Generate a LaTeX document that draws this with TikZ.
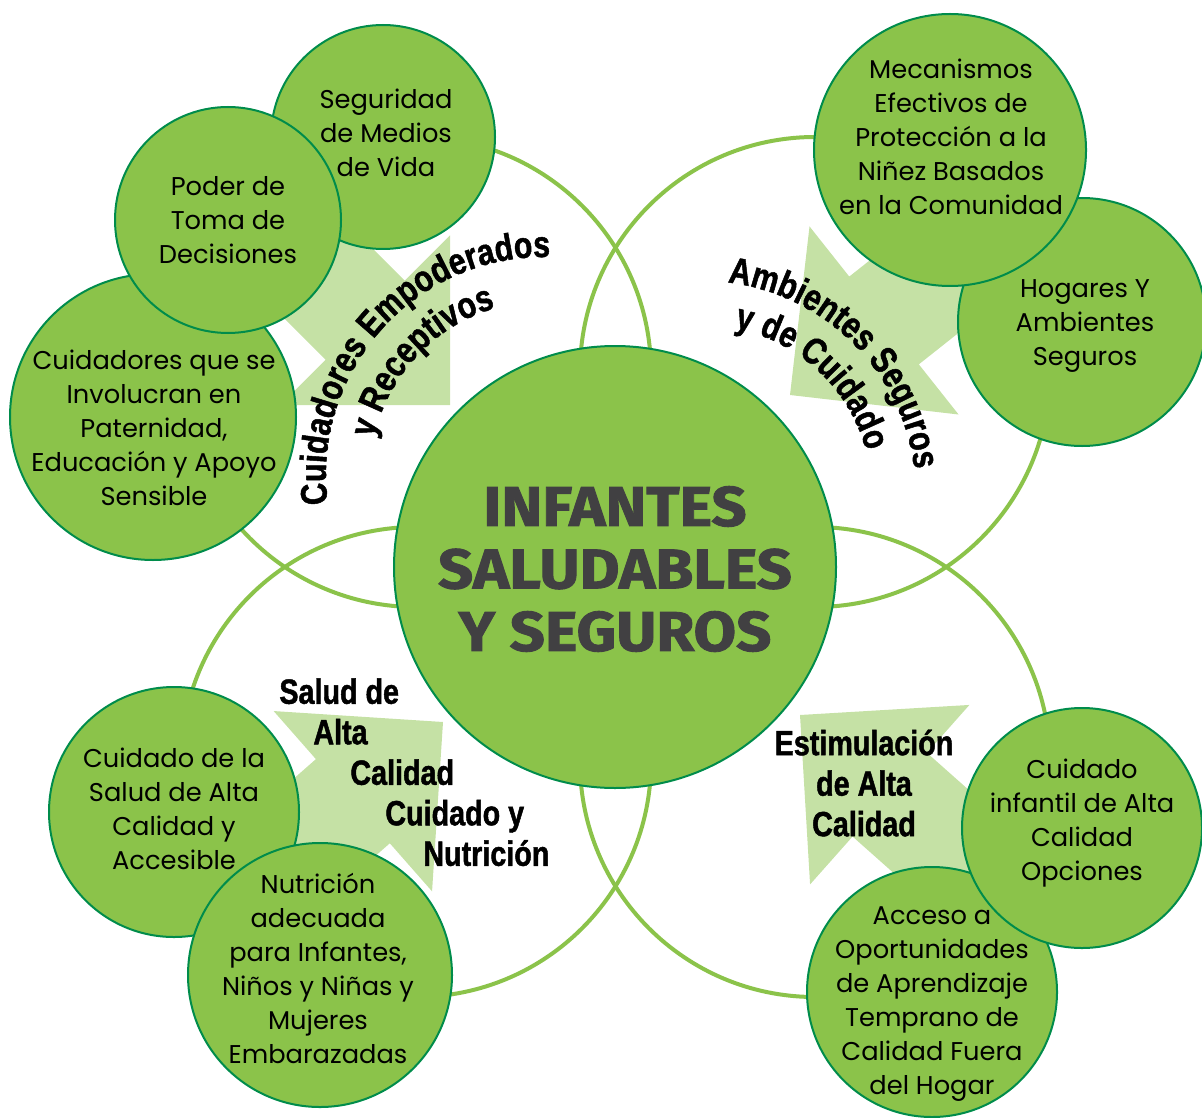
\documentclass[tikz,border=0pt]{standalone}
\usepackage{fontspec}
\usetikzlibrary{decorations.text}
\newfontfamily\bubblefont{Poppins}
\newfontfamily\labelfont{Liberation Sans}[FakeStretch=0.82,FakeBold=1.3]
\newfontfamily\titlefont{Fira Sans}[FakeStretch=1.1,FakeBold=1.6]
\newcommand\arcfont{\labelfont\bfseries\fontsize{18.5}{20}\selectfont}
\definecolor{leaf}{RGB}{139,195,74}
\definecolor{leafline}{RGB}{0,140,75}
\definecolor{paleleaf}{RGB}{197,225,165}
\definecolor{titlegray}{RGB}{65,64,66}

\begin{document}
\begin{tikzpicture}[x=0.5pt,y=0.5pt,
    ring/.style={circle,draw=leaf,line width=2pt,inner sep=0pt},
    bubble/.style={circle,draw=leafline,fill=leaf,line width=1pt,inner sep=0pt},
    bubbletext/.style={align=center,inner sep=0pt,font=\bubblefont\fontsize{12.85}{17}\selectfont},
    arrowfill/.style={fill=paleleaf},
    bigtext/.style={align=left,inner sep=0pt,font=\labelfont\bfseries\fontsize{17.5}{20.25}\selectfont}]
    \useasboundingbox (0,0) rectangle (1202,-1117);

    \fill[arrowfill,shift={(450,-405)},rotate=-45] (0,0) -- (-120,120) -- (-120,56) -- (-260,56) -- (-260,-56) -- (-120,-56) -- (-120,-120) -- cycle;
    \fill[arrowfill,shift={(790,-395)},rotate=218.4] (0,0) -- (-120,120) -- (-120,56) -- (-260,56) -- (-260,-56) -- (-120,-56) -- (-120,-120) -- cycle;
    \fill[arrowfill,shift={(443,-722)},rotate=41.3] (0,0) -- (-120,120) -- (-120,56) -- (-260,56) -- (-260,-56) -- (-120,-56) -- (-120,-120) -- cycle;
    \fill[arrowfill,shift={(800,-715)},rotate=138.4] (0,0) -- (-120,120) -- (-120,56) -- (-260,56) -- (-260,-56) -- (-120,-56) -- (-120,-120) -- cycle;

    \node[ring,minimum size=235pt] at (416,-372) (ringtl) {};
    \node[ring,minimum size=235pt] at (815,-372) (ringtr) {};
    \node[ring,minimum size=235pt] at (416,-762) (ringbl) {};
    \node[ring,minimum size=235pt] at (815,-762) (ringbr) {};

    \node[bubble,minimum size=221pt] at (615,-567) (core) {};
    \node[bubble,minimum size=112pt] at (383,-137) (seg) {};
    \node[bubble,minimum size=143pt] at (153,-417) (cuid) {};
    \node[bubble,minimum size=113pt] at (228,-220) (poder) {};
    \node[bubble,minimum size=124pt] at (1082,-322) (hog) {};
    \node[bubble,minimum size=136pt] at (950,-150) (mec) {};
    \node[bubble,minimum size=125pt] at (174,-812) (salud) {};
    \node[bubble,minimum size=132pt] at (320,-975) (nutr) {};
    \node[bubble,minimum size=125pt] at (932,-992) (acc) {};
    \node[bubble,minimum size=120pt] at (1082,-828) (inf) {};

    \node[bubbletext] at (386,-133) (segtext) {Seguridad\\de Medios\\de Vida};
    \node[bubbletext] at (228,-220) (podertext) {Poder de\\Toma de\\Decisiones};
    \node[bubbletext] at (154,-428) (cuidtext) {Cuidadores que se\\Involucran en\\Paternidad,\\Educación y Apoyo\\Sensible};
    \node[bubbletext] at (951,-137) (mectext) {Mecanismos\\Efectivos de\\Protección a la\\Niñez Basados\\en la Comunidad};
    \node[bubbletext] at (1085,-326) (hogtext) {Hogares Y\\Ambientes\\Seguros};
    \node[bubbletext] at (174,-809) (saludtext) {Cuidado de la\\Salud de Alta\\Calidad y\\Accesible};
    \node[bubbletext] at (318,-968) (nutrtext) {Nutrición\\adecuada\\para Infantes,\\Niños y Niñas y\\Mujeres\\Embarazadas};
    \node[bubbletext] at (1082,-823) (inftext) {Cuidado\\infantil de Alta\\Calidad\\Opciones};
    \node[bubbletext] at (932,-1004) (acctext) {Acceso a\\Oportunidades\\de Aprendizaje\\Temprano de\\Calidad Fuera\\del Hogar};

    \node[align=center,inner sep=0pt,text=titlegray,font=\titlefont\bfseries\fontsize{28}{31.25}\selectfont] at (615,-569) (title) {INFANTES\\SALUDABLES\\Y SEGUROS};

    \path[decorate,decoration={text along path,text align=center,text={|\arcfont|Cuidadores Empoderados}}]
        (544,-475) ++(198:218) arc[start angle=198,end angle=78,radius=218];
    \path[decorate,decoration={text along path,text align=center,text={|\arcfont|y Receptivos}}]
        (544,-475) ++(197:174) arc[start angle=197,end angle=77,radius=174];
    \path[decorate,decoration={text along path,text align=center,text={|\arcfont|Ambientes Seguros}}]
        (702,-495) ++(105:214) arc[start angle=105,end angle=-15,radius=214];
    \path[decorate,decoration={text along path,text align=center,text={|\arcfont|y de Cuidado}}]
        (702,-495) ++(107:170) arc[start angle=107,end angle=-13,radius=170];

    \node[bigtext,anchor=north west] at (279,-678) (saludlabel) {Salud de\\\hspace*{17pt}Alta\\\hspace*{35.5pt}Calidad\\\hspace*{53pt}Cuidado y\\\hspace*{72pt}Nutrición};
    \node[bigtext,align=center] at (864,-783) (estlabel) {Estimulación\\de Alta\\Calidad};
\end{tikzpicture}
\end{document}
